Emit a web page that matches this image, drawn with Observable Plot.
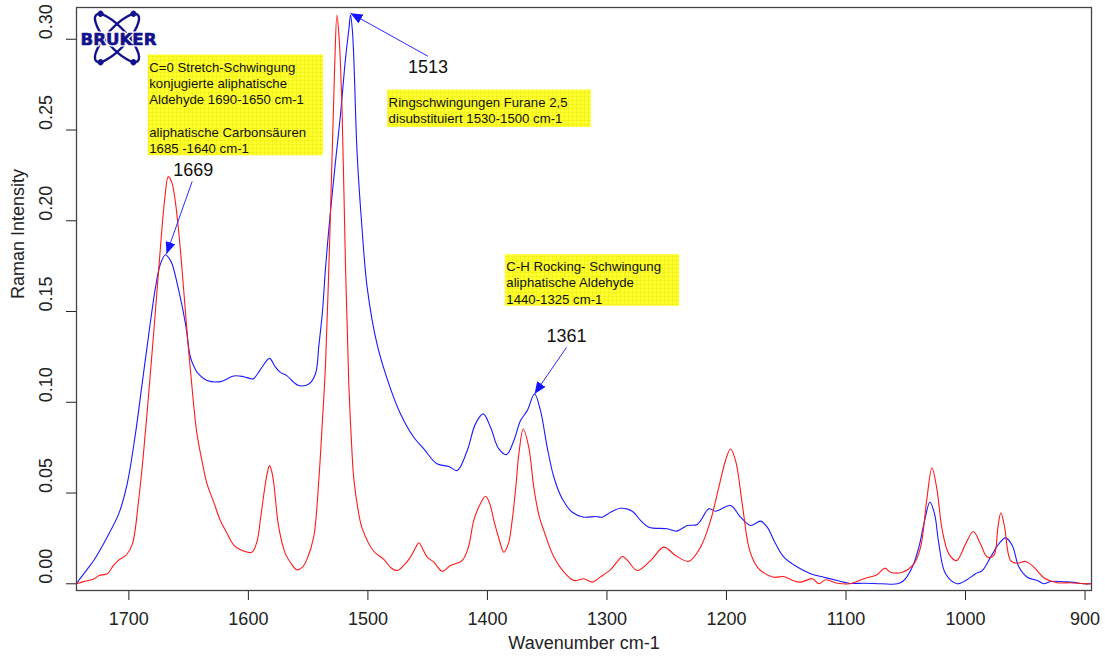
<!DOCTYPE html>
<html>
<head>
<meta charset="utf-8">
<script src="https://cdn.jsdelivr.net/npm/d3@7"></script>
<script src="https://cdn.jsdelivr.net/npm/@observablehq/plot@0.6"></script>
<style>
  body { margin: 0; background: #fff; }
  #chart { width: 1105px; height: 663px; }
</style>
</head>
<body>
<div id="chart"></div>
<script>
// ---------- data ----------
const redWavenumber = [1744,1738,1729,1725,1718,1713,1709,1702,1697,1692,1688,1684,1680,1676,1673,1670,1667,1664,1661,1658,1655.6,1650,1646,1643,1638,1634.6,1629,1623.5,1618,1612.4,1606.6,1597,1592.6,1590,1587,1584.5,1582.3,1580.5,1578.7,1574.6,1569,1564,1559.7,1555,1550.8,1545.3,1541.1,1538.2,1535.5,1532.7,1529.9,1527.8,1525.9,1524,1521.5,1518.7,1516,1513.5,1511.8,1508,1504.8,1495,1486.7,1481,1475.5,1470,1464.4,1460,1457.4,1454,1450.4,1444.8,1437.8,1430.9,1421.1,1416,1411.4,1406,1401.6,1398,1394.6,1390,1386.3,1382.5,1379.3,1376,1373.7,1370,1365.4,1361.2,1357,1352.8,1344.4,1336,1327.7,1319.3,1312.3,1305.4,1297,1291,1287.2,1283,1274.6,1263.5,1252.4,1242.6,1231.5,1221.7,1213.3,1206.4,1200.8,1196.6,1192.4,1186.8,1181.3,1176,1171.5,1160.4,1152,1145,1138,1128.2,1122.7,1117,1107.3,1097,1085,1074,1067.5,1062.7,1052.9,1043.2,1037.6,1032.5,1028.1,1024.2,1019.4,1013.9,1007.5,999.9,993.5,987.5,981.8,976.3,972.9,970.4,967.3,962.3,956.7,949.7,942.8,934.4,923.2,912.1,901,895];
const redIntensity = [0,0.0012,0.0028,0.0046,0.0055,0.010,0.0128,0.016,0.022,0.045,0.070,0.100,0.132,0.165,0.190,0.212,0.2243,0.221,0.210,0.192,0.174,0.1285,0.100,0.0826,0.065,0.055,0.045,0.0349,0.028,0.0215,0.0187,0.0174,0.0238,0.035,0.0496,0.060,0.0651,0.062,0.0551,0.0312,0.0165,0.011,0.0077,0.009,0.0138,0.026,0.0569,0.0881,0.120,0.1737,0.2369,0.285,0.3134,0.300,0.258,0.1737,0.1105,0.075,0.0578,0.040,0.0305,0.0178,0.0135,0.009,0.0073,0.0101,0.0147,0.020,0.0226,0.019,0.0147,0.0119,0.0069,0.0101,0.0128,0.020,0.0349,0.044,0.0482,0.044,0.0349,0.024,0.0174,0.022,0.0349,0.055,0.0716,0.0853,0.0752,0.0532,0.038,0.0293,0.0147,0.0064,0.0018,0.0028,0.0009,0.0038,0.0078,0.0125,0.015,0.013,0.0073,0.0128,0.0202,0.0156,0.0124,0.0202,0.0349,0.0532,0.0679,0.0743,0.0679,0.044,0.0202,0.011,0.0073,0.0036,0.004,0.002,0.0009,0.0028,0,0.0022,0.0003,0,0.0028,0.005,0.0086,0.0064,0.0064,0.011,0.0202,0.0459,0.0639,0.0532,0.0293,0.0165,0.0128,0.022,0.0288,0.022,0.0147,0.0156,0.0312,0.0391,0.0312,0.0128,0.0113,0.0123,0.0092,0.0033,0.0006,0.0006,0,0];

const blueWavenumber = [1744,1736,1729.4,1718.2,1708.5,1701.4,1694.5,1688.9,1683.3,1677.7,1673.6,1669.4,1666,1663.8,1658.2,1652.6,1648.5,1645,1642.8,1634.5,1623.3,1612.2,1603.8,1596,1592,1588.6,1582.3,1578,1573.3,1567.9,1562,1557.8,1549.4,1543.9,1541,1538,1535.5,1531.3,1527.1,1523,1518.7,1516,1514.5,1513,1511.8,1509,1504.8,1500.6,1492.2,1481.1,1472.7,1461.6,1453.2,1442.2,1432.3,1425.3,1416.9,1410,1403.5,1397.4,1390.5,1384,1377.9,1372.3,1366.7,1360.6,1355.6,1350,1344.4,1337.4,1329,1319.3,1309.5,1303.9,1297,1288.6,1278.8,1271.9,1265,1249.5,1241.8,1232.8,1224.4,1214.7,1209.1,1196.6,1188.2,1179.8,1171.5,1165.9,1158.9,1152,1140.7,1129.6,1118.5,1107.3,1097.6,1085,1070,1057,1051.6,1044.5,1039,1034.2,1029.8,1025.9,1022.3,1016.7,1006.9,999.9,991.6,986,979,972.1,966.5,960.9,955.3,948.3,940,934.4,928.8,912,901,895];
const blueIntensity = [0,0.007,0.0128,0.0257,0.0385,0.0551,0.0826,0.1101,0.1377,0.1633,0.1762,0.1813,0.179,0.1762,0.1615,0.1432,0.1248,0.119,0.1165,0.112,0.1114,0.1145,0.1141,0.1129,0.116,0.1193,0.1242,0.120,0.1165,0.1147,0.111,0.1092,0.1101,0.1156,0.1315,0.150,0.1737,0.2053,0.2327,0.258,0.2896,0.305,0.3134,0.305,0.2896,0.2369,0.1948,0.1632,0.1316,0.1075,0.0936,0.0807,0.0743,0.0661,0.0646,0.0624,0.0734,0.0881,0.0936,0.0862,0.0743,0.0712,0.0789,0.0899,0.0954,0.1046,0.0954,0.0752,0.0587,0.0468,0.0394,0.0367,0.0371,0.0367,0.0394,0.0416,0.040,0.0349,0.0312,0.0303,0.029,0.0321,0.0327,0.0413,0.040,0.0431,0.0367,0.0321,0.0345,0.0312,0.022,0.0147,0.0092,0.0055,0.0036,0.0018,0.0003,0.0003,0,0,0.0018,0.0092,0.0202,0.0349,0.0449,0.0385,0.022,0.0055,0,0.0018,0.0055,0.0073,0.0147,0.022,0.0253,0.0211,0.0092,0.0036,0.0018,0,0.0013,0.0009,0,0];

const xTicks = [1700, 1600, 1500, 1400, 1300, 1200, 1100, 1000, 900];
const yTicks = [0, 0.05, 0.10, 0.15, 0.20, 0.25, 0.30];
const yTickLabels = ["0.00", "0.05", "0.10", "0.15", "0.20", "0.25", "0.30"];

const boxTexts = [
  "C=0 Stretch-Schwingung\nkonjugierte aliphatische\nAldehyde 1690-1650 cm-1\n\u00a0\naliphatische Carbonsäuren\n1685 -1640 cm-1",
  "Ringschwingungen Furane 2,5\ndisubstituiert 1530-1500 cm-1",
  "C-H Rocking- Schwingung\naliphatische Aldehyde\n1440-1325 cm-1"
];
const boxWnLeft  = [1683.8, 1483.5, 1385.0];
const boxWnRight = [1537.1, 1313.1, 1239.2];
const boxIntBottom = [0.2358, 0.2514, 0.1529];
const boxIntTop    = [0.2913, 0.2720, 0.1813];

const peakLabels = ["1669", "1513", "1361"];
const peakLabelWn  = [1646.2, 1449.7, 1333.8];
const peakLabelInt = [0.2281, 0.2845, 0.1363];
const arrowFromWn  = [1647.0, 1449.9, 1333.8];
const arrowFromInt = [0.2217, 0.2907, 0.1303];
const arrowToWn    = [1668.5, 1514.6, 1360.6];
const arrowToInt   = [0.1817, 0.3144, 0.1046];

// ---------- tables ----------
const red = redWavenumber.map((w, i) => ({wn: w, val: redIntensity[i]}));
const blue = blueWavenumber.map((w, i) => ({wn: w, val: blueIntensity[i]}));
const boxes = boxTexts.map((t, i) => ({text: t, x1: boxWnLeft[i], x2: boxWnRight[i], y1: boxIntBottom[i], y2: boxIntTop[i]}));
const peaks = peakLabels.map((t, i) => ({text: t, x: peakLabelWn[i], y: peakLabelInt[i]}));
const arrows = peakLabels.map((t, i) => ({x1: arrowFromWn[i], y1: arrowFromInt[i], x2: arrowToWn[i], y2: arrowToInt[i]}));
const yTickData = yTicks.map((v, i) => ({v, label: yTickLabels[i]}));

const FONT = "'Liberation Sans', Arial, Helvetica, sans-serif";

const plot = Plot.plot({
  width: 1105,
  height: 663,
  marginLeft: 76,
  marginRight: 14,
  marginTop: 7,
  marginBottom: 73,
  x: {domain: [1743.8, 894.6], ticks: xTicks, tickSize: 10, tickPadding: 12, tickFormat: d => String(d), label: null},
  y: {domain: [-0.0037, 0.3175], ticks: yTicks, tickSize: 10, tickFormat: () => "", label: null},
  style: {fontFamily: FONT, fontSize: "18px", color: "#222", background: "#fff"},
  marks: [
    Plot.rect(boxes, {x1: "x1", x2: "x2", y1: "y1", y2: "y2", fill: "#ffff33"}),
    Plot.text(boxes, {x: "x1", y: "y2", text: "text", textAnchor: "start", lineAnchor: "top", dx: 1, dy: 5, fontSize: 13.2, lineHeight: 1.23, fill: "#111", fontFamily: FONT}),
    Plot.line(blue, {x: "wn", y: "val", stroke: "#1a1aff", strokeWidth: 1.1, curve: "catmull-rom"}),
    Plot.line(red, {x: "wn", y: "val", stroke: "#ff1a1a", strokeWidth: 1.1, curve: "catmull-rom"}),
    Plot.link(arrows, {x1: "x1", y1: "y1", x2: "x2", y2: "y2", stroke: "#2a2aff", strokeWidth: 1}),
    Plot.text(peaks, {x: "x", y: "y", text: "text", fontSize: 18, fill: "#111"}),
    Plot.text(yTickData, {y: "v", text: "label", frameAnchor: "left", dx: -30, rotate: -90, fontSize: 18, fill: "#222"}),
    Plot.text(["Wavenumber cm-1"], {text: d => d, frameAnchor: "bottom", dy: 58, fontSize: 18, fill: "#222"}),
    Plot.text(["Raman Intensity"], {text: d => d, frameAnchor: "left", dx: -58, rotate: -90, fontSize: 18, fill: "#222"}),
    Plot.frame({stroke: "#444", strokeWidth: 1.3})
  ]
});

document.getElementById("chart").appendChild(plot);

// ---------- decorations: grid fill, filled arrowheads, logo ----------
const svg = d3.select(plot);
const defs = svg.insert("defs", ":first-child");
const pat = defs.append("pattern").attr("id", "yellowGrid").attr("patternUnits", "userSpaceOnUse").attr("width", 4).attr("height", 4);
pat.append("rect").attr("width", 4).attr("height", 4).attr("fill", "#ffff30");
pat.append("path").attr("d", "M0,0.25H4M0.25,0V4").attr("stroke", "#e2e200").attr("stroke-width", 0.5).attr("fill", "none");
svg.selectAll('g[aria-label="rect"] rect').attr("fill", "url(#yellowGrid)");

const mk = defs.append("marker").attr("id", "arrowHead").attr("viewBox", "0 0 12 10")
  .attr("refX", 12).attr("refY", 5).attr("markerWidth", 12).attr("markerHeight", 10)
  .attr("markerUnits", "userSpaceOnUse").attr("orient", "auto");
mk.append("path").attr("d", "M0,0L12,5L0,10Z").attr("fill", "#1414ff");
svg.selectAll('g[aria-label="link"] path').attr("marker-end", "url(#arrowHead)");

const navy = "#12128c";
const logo = svg.append("g").attr("aria-label", "logo").attr("transform", "translate(117,38)");
[48, -48].forEach(a => {
  const g = logo.append("g").attr("transform", `rotate(${a})`);
  g.append("ellipse").attr("rx", 31).attr("ry", 10).attr("fill", "none").attr("stroke", navy).attr("stroke-width", 2.4);
  g.append("circle").attr("cx", -29).attr("cy", a > 0 ? -4 : 4).attr("r", 3).attr("fill", navy);
  g.append("circle").attr("cx", 29).attr("cy", a > 0 ? 4 : -4).attr("r", 3).attr("fill", navy);
});
const logoText = (stroke, width) => logo.append("text").text("BRUKER").attr("x", 1.5).attr("y", 6.5).attr("text-anchor", "middle")
  .attr("font-family", "'DejaVu Sans', sans-serif").attr("font-weight", "bold").attr("font-size", 16.5)
  .attr("textLength", 76).attr("lengthAdjust", "spacingAndGlyphs")
  .attr("fill", navy).attr("stroke", stroke).attr("stroke-width", width).attr("stroke-linejoin", "round");
logoText("#fff", 3.2);
logoText(navy, 0.6);
</script>
</body>
</html>
